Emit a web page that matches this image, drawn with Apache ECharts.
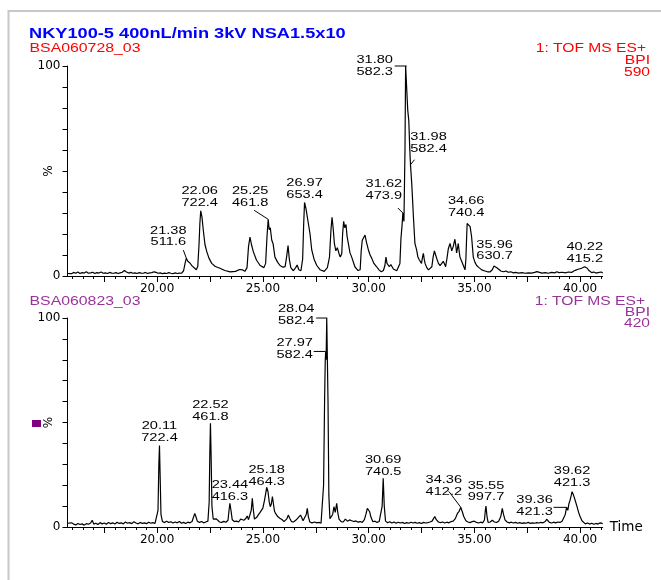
<!DOCTYPE html>
<html><head><meta charset="utf-8">
<script src="https://cdn.jsdelivr.net/npm/echarts@6/dist/echarts.min.js"></script>
<style>html,body{margin:0;padding:0;background:#fff}#c{width:661px;height:580px}</style>
</head><body><div id="c"></div>
<script>
// ---------- data ----------
const titleText = 'NKY100-5 400nL/min 3kV NSA1.5x10';
const topSample = 'BSA060728_03';
const bottomSample = 'BSA060823_03';
const topInfo = ['1: TOF MS ES+', 'BPI', '590'];
const bottomInfo = ['1: TOF MS ES+', 'BPI', '420'];

const X_MIN = 15.76, X_MAX = 41.07;
const tickLabels = [20, 25, 30, 35, 40];
const majorTicks = [17.5, 20, 22.5, 25, 27.5, 30, 32.5, 35, 37.5, 40];
const minorTicks = [16, 16.5, 17, 17.5, 18, 18.5, 19, 19.5, 20, 20.5, 21, 21.5, 22, 22.5, 23, 23.5, 24, 24.5, 25, 25.5,
  26, 26.5, 27, 27.5, 28, 28.5, 29, 29.5, 30, 30.5, 31, 31.5, 32, 32.5, 33, 33.5, 34, 34.5, 35, 35.5,
  36, 36.5, 37, 37.5, 38, 38.5, 39, 39.5, 40, 40.5, 41];
const yLabels = [0, 100];

// top chromatogram [time, % intensity]
const topTrace = [
  [15.76,1.2],[15.85,1.6],[15.95,1.1],[16.05,1.7],[16.15,1.3],[16.25,1.9],[16.35,1.2],[16.45,1.6],[16.55,1.4],[16.65,2.0],
  [16.75,1.3],[16.85,1.5],[16.95,1.8],[17.05,1.2],[17.15,1.6],[17.25,1.4],[17.35,1.9],[17.45,1.3],[17.55,1.5],[17.65,1.2],
  [17.75,1.7],[17.85,1.4],[17.95,1.3],[18.05,1.6],[18.15,1.2],[18.25,1.5],[18.35,1.8],[18.45,2.6],[18.55,1.9],[18.65,1.4],
  [18.75,1.7],[18.85,1.3],[18.95,1.5],[19.05,1.2],[19.15,1.6],[19.25,1.4],[19.35,1.3],[19.45,1.7],[19.55,1.2],[19.65,1.5],
  [19.75,1.6],[19.85,2.0],[19.95,1.7],[20.05,1.3],[20.15,1.5],[20.25,1.1],[20.35,1.4],[20.45,1.2],[20.55,1.6],[20.65,1.3],
  [20.75,1.1],[20.85,1.5],[20.95,1.2],[21.05,1.4],[21.15,1.3],[21.25,2.5],[21.32,6.0],[21.38,8.5],[21.45,7.0],[21.55,6.2],
  [21.65,4.8],[21.75,3.9],[21.85,3.0],[21.92,4.5],[21.98,15],[22.02,25],[22.06,31],[22.12,28],[22.18,22],[22.26,15],
  [22.35,11.5],[22.45,8.5],[22.58,6],[22.75,4.5],[22.97,3.7],[23.2,2.6],[23.45,2.0],[23.7,2.2],[23.9,3.1],[24.05,2.9],
  [24.15,2.2],[24.25,4],[24.32,14],[24.39,18.5],[24.46,15],[24.55,11.5],[24.7,7.5],[24.87,5],[25.05,4],[25.13,6],
  [25.19,18],[25.25,27],[25.30,22],[25.35,23],[25.42,17],[25.48,15.5],[25.57,9],[25.7,6.5],[25.81,5],[25.95,4.2],
  [26.05,4.5],[26.12,9],[26.19,14.5],[26.25,8],[26.32,4],[26.44,2.5],[26.55,4],[26.62,5.2],[26.7,3],[26.8,2.5],
  [26.88,8],[26.93,25],[26.97,35],[27.04,32],[27.15,25],[27.23,20],[27.31,12.4],[27.42,8],[27.55,5],[27.7,3],
  [27.9,2.2],[28.05,4],[28.15,9],[28.22,22],[28.27,28],[28.33,22],[28.38,15.5],[28.45,12],[28.52,13.5],[28.58,14],
  [28.62,10],[28.66,9],[28.73,10.6],[28.77,20],[28.82,26],[28.87,23],[28.93,24.5],[28.98,19],[29.04,15.5],[29.12,11],
  [29.2,9],[29.35,4.4],[29.5,2.6],[29.6,3.0],[29.65,12],[29.7,17],[29.76,16.5],[29.83,19.5],[29.9,16],[29.99,12.4],
  [30.07,10],[30.15,8.4],[30.25,6],[30.38,4.4],[30.5,2.8],[30.6,2.0],[30.7,2.6],[30.77,5],[30.82,9],[30.87,6],
  [30.98,4.4],[31.05,5.5],[31.09,5],[31.17,3.3],[31.25,3.7],[31.33,2.5],[31.41,2.9],[31.48,6],[31.53,18],[31.58,24],
  [31.62,30],[31.67,26],[31.72,60],[31.75,100],[31.82,100],[31.85,79],[31.9,74],[31.94,62],[31.98,53],[32.04,44],
  [32.08,36],[32.12,28],[32.19,15.5],[32.27,12.4],[32.33,9],[32.4,7.6],[32.5,6],[32.55,9],[32.59,10.8],[32.63,8],
  [32.67,6],[32.75,4],[32.83,2.9],[32.92,3.5],[32.99,4.4],[33.05,9],[33.11,12],[33.17,10],[33.22,8.4],[33.3,6],
  [33.38,5],[33.46,6],[33.53,7],[33.6,5.5],[33.64,4.4],[33.7,8],[33.77,13],[33.85,15.5],[33.93,12],[34.0,14],
  [34.08,17.5],[34.13,14],[34.16,11],[34.2,13],[34.24,15.5],[34.28,12],[34.32,9],[34.4,7],[34.48,5],[34.56,2.9],
  [34.6,8],[34.64,20],[34.66,25],[34.72,25],[34.8,23.5],[34.87,18.7],[34.95,9],[35.03,6.5],[35.11,5],[35.22,4],
  [35.35,2.9],[35.5,2.4],[35.62,2.0],[35.75,2.0],[35.85,3.0],[35.93,4.8],[35.96,5.2],[36.02,4.8],[36.08,3.8],[36.14,2.9],
  [36.25,2.4],[36.38,2.0],[36.5,2.4],[36.6,1.8],[36.72,2.0],[36.85,1.5],[36.95,1.7],[37.1,1.4],[37.25,1.6],[37.4,1.3],
  [37.55,1.5],[37.7,1.4],[37.85,1.7],[37.96,2.1],[38.05,1.7],[38.2,1.4],[38.35,1.6],[38.5,1.3],[38.65,1.7],[38.8,1.5],
  [38.9,2.0],[39.0,1.6],[39.15,1.8],[39.3,1.5],[39.45,1.9],[39.6,1.7],[39.7,2.4],[39.8,2.8],[39.91,3.2],[39.98,2.6],
  [40.07,3.7],[40.15,3.2],[40.22,4.4],[40.28,3.6],[40.34,3.7],[40.42,2.6],[40.5,1.9],[40.55,1.6],[40.65,1.9],[40.75,1.4],
  [40.85,1.6],[40.94,1.3],[41.0,1.9],[41.07,1.4]
];

// bottom chromatogram [time, % intensity]
const bottomTrace = [
  [15.76,1.8],[15.85,1.2],[15.95,2.0],[16.05,1.4],[16.15,1.0],[16.25,1.7],[16.35,1.2],[16.45,1.5],[16.55,0.9],[16.65,1.6],
  [16.75,1.3],[16.85,1.9],[16.93,3.2],[17.0,1.4],[17.1,1.8],[17.2,1.2],[17.3,2.1],[17.4,1.5],[17.5,1.9],[17.6,1.3],
  [17.7,2.2],[17.8,1.6],[17.9,2.0],[18.0,1.4],[18.1,2.3],[18.2,1.7],[18.3,2.0],[18.4,1.5],[18.5,2.4],[18.6,1.8],
  [18.7,2.1],[18.8,1.6],[18.9,2.5],[19.0,1.9],[19.1,1.5],[19.2,2.2],[19.3,1.7],[19.4,2.0],[19.5,1.6],[19.6,2.3],
  [19.7,1.8],[19.8,2.1],[19.9,1.7],[19.98,2.0],[20.04,8],[20.08,30],[20.11,39],[20.14,25],[20.18,6],[20.25,2.6],
  [20.35,2.1],[20.45,2.8],[20.55,2.2],[20.65,2.5],[20.75,1.9],[20.85,2.4],[20.95,2.0],[21.05,2.6],[21.15,1.8],[21.25,2.2],
  [21.35,1.7],[21.45,2.3],[21.55,2.0],[21.65,2.6],[21.72,3.5],[21.78,6.5],[21.83,5.0],[21.9,2.8],[22.0,2.2],[22.1,2.6],
  [22.2,2.0],[22.3,2.4],[22.4,2.8],[22.46,12],[22.49,35],[22.52,49.6],[22.55,35],[22.59,10],[22.65,3.8],[22.72,3.0],
  [22.8,3.9],[22.86,3.5],[22.95,2.4],[23.05,2.2],[23.15,2.7],[23.25,2.3],[23.35,3.2],[23.4,8],[23.44,11.3],[23.49,8],
  [23.55,3.5],[23.65,2.6],[23.75,2.8],[23.85,2.4],[23.95,3.8],[24.02,4.0],[24.1,3.2],[24.2,4.2],[24.26,5.3],[24.32,3.5],
  [24.4,3.5],[24.45,8],[24.5,13.7],[24.55,8],[24.6,3.8],[24.7,4.5],[24.8,6],[24.9,7.5],[25.0,9],[25.08,13],
  [25.15,17],[25.18,19],[25.24,17],[25.3,12],[25.35,9.7],[25.4,11],[25.45,14.5],[25.5,11],[25.55,7.5],[25.6,6.5],
  [25.7,5],[25.8,4.2],[25.9,3.6],[26.0,2.6],[26.08,2.2],[26.14,4],[26.2,5.7],[26.27,4.2],[26.35,2.6],[26.45,2.4],
  [26.55,3.2],[26.65,4.2],[26.72,5.0],[26.78,5.7],[26.84,4.4],[26.9,3.0],[26.98,3.5],[27.05,6],[27.1,8.9],[27.15,5],
  [27.22,2.4],[27.32,2.0],[27.45,2.4],[27.55,2.0],[27.65,2.2],[27.75,1.8],[27.82,2.5],[27.87,20],[27.92,62],[27.95,80],
  [27.97,84],[27.99,80],[28.02,100],[28.05,100],[28.08,60],[28.12,15],[28.17,4],[28.23,3.2],[28.3,6],[28.36,9.7],
  [28.42,7],[28.49,11.3],[28.54,7],[28.6,3.8],[28.7,2.6],[28.8,2.4],[28.9,3.8],[29.0,2.8],[29.1,3.4],[29.2,3.0],
  [29.3,2.6],[29.4,2.9],[29.5,2.3],[29.6,2.6],[29.7,2.2],[29.8,3.5],[29.87,6],[29.94,8.9],[30.0,8],[30.05,7.3],
  [30.1,5],[30.2,2.5],[30.3,2.8],[30.4,2.2],[30.5,2.6],[30.58,2.4],[30.64,10],[30.69,23.3],[30.74,10],[30.8,2.8],
  [30.9,2.0],[31.0,2.5],[31.1,1.9],[31.2,2.4],[31.3,1.8],[31.4,2.3],[31.5,1.9],[31.6,2.2],[31.7,1.7],[31.8,2.1],
  [31.9,1.8],[32.0,2.3],[32.1,1.9],[32.2,2.2],[32.3,1.8],[32.4,2.1],[32.5,1.7],[32.6,2.2],[32.7,1.9],[32.8,2.1],
  [32.9,2.4],[33.0,2.8],[33.07,4],[33.13,5],[33.2,3.5],[33.3,2.4],[33.4,2.1],[33.5,2.4],[33.6,1.9],[33.7,2.3],
  [33.8,2.0],[33.9,2.6],[34.0,2.8],[34.1,4.0],[34.2,6.5],[34.28,7.5],[34.36,9.4],[34.43,7.3],[34.5,5.0],[34.6,3.0],
  [34.7,2.4],[34.8,2.1],[34.9,2.6],[35.0,2.8],[35.1,2.2],[35.2,1.9],[35.3,2.3],[35.4,2.0],[35.48,3.5],[35.52,8],
  [35.55,10],[35.6,5],[35.65,2.2],[35.75,2.4],[35.85,3.2],[35.95,2.4],[36.05,2.2],[36.15,2.8],[36.25,5],[36.32,8.9],
  [36.38,6],[36.45,3.4],[36.55,2.4],[36.65,2.0],[36.75,2.3],[36.85,1.9],[36.95,2.2],[37.05,1.8],[37.15,2.1],[37.25,1.7],
  [37.35,2.0],[37.45,1.8],[37.55,2.2],[37.65,1.7],[37.75,2.0],[37.85,1.8],[37.95,2.1],[38.05,1.9],[38.15,2.2],[38.25,2.0],
  [38.35,2.6],[38.42,3.7],[38.48,3.0],[38.55,2.2],[38.65,1.9],[38.75,2.3],[38.85,2.0],[38.95,2.4],[39.05,2.2],[39.15,2.8],
  [39.22,3.5],[39.3,6],[39.36,9.4],[39.42,8],[39.47,11],[39.53,13],[39.58,15],[39.62,16.9],[39.68,15.5],[39.73,14],
  [39.78,13.5],[39.85,10],[39.93,7],[40.0,5],[40.09,3],[40.17,2.2],[40.25,1.5],[40.35,1.9],[40.45,1.4],[40.55,1.8],
  [40.65,1.3],[40.75,1.7],[40.85,1.4],[40.95,2.0],[41.0,2.2],[41.07,1.6]
];

// peak annotations
const topPeakTimes = [21.38, 22.06, 25.25, 26.97, 31.62, 31.80, 31.98, 34.66, 35.96, 40.22];
const topPeakValues = [8.5, 31, 27, 35, 30, 100, 53, 25, 5.2, 4.4];
const topPeakMz = ['511.6', '722.4', '461.8', '653.4', '473.9', '582.3', '582.4', '740.4', '630.7', '415.2'];
const bottomPeakTimes = [20.11, 22.52, 23.44, 25.18, 27.97, 28.04, 30.69, 34.36, 35.55, 39.36, 39.62];
const bottomPeakValues = [39, 49.6, 11.3, 19, 84, 100, 23.3, 9.4, 10, 9.4, 16.9];
const bottomPeakMz = ['722.4', '461.8', '416.3', '464.3', '582.4', '582.4', '740.5', '412.2', '997.7', '421.3', '421.3'];

// ---------- styles / layout ----------
const topLabelOffsets = [[-18,-10],[-1,-2],[-18,-11],[0,-2],[-19,-11],[-32,12],[18,-10],[-1,-5],[0,-3],[0,-2]];
const topLeaders = [[-3,-8], null, [-14,-9], null, [-5,-5], [-12,0], [4,-5], null, null, null];
const bottomLabelOffsets = [[0,-2],[0,-1],[0,-1],[0,0],[-31,9],[-31,9],[0,-1],[-17,-10],[0,-3],[-32,10],[0,-3]];
const bottomLeaders = [null, null, null, null, [-12,0], [-11,0], null, [-12,-16], null, [-13,0], null];

const SX = 1.3;
const ARIAL = '"Liberation Sans", Arial, sans-serif';
const DEJAVU = '"DejaVu Sans", sans-serif';
const RED = '#ff0000', PURPLE = '#993399', BLUE = '#0000ff';

function xAxesFor(gridIndex, withName) {
  return [{
    type: 'value', gridIndex, min: X_MIN, max: X_MAX, position: 'bottom',
    axisLine: {show: true, onZero: false, lineStyle: {color: '#000', width: 1}},
    axisTick: {show: true, customValues: majorTicks, length: 6, lineStyle: {color: '#000', width: 1}},
    axisLabel: {customValues: tickLabels, formatter: v => Number(v).toFixed(2), color: '#000',
      fontFamily: DEJAVU, fontSize: 12, margin: 7},
    splitLine: {show: false},
    name: withName ? 'Time' : '', nameLocation: 'end', nameGap: 7,
    nameTextStyle: {color: '#000', fontFamily: DEJAVU, fontSize: 13.5, verticalAlign: 'middle'}
  }, {
    type: 'value', gridIndex, min: X_MIN, max: X_MAX, position: 'bottom',
    axisLine: {show: false, onZero: false}, axisLabel: {show: false}, splitLine: {show: false},
    axisTick: {show: true, customValues: minorTicks, length: 3, lineStyle: {color: '#000', width: 1}}
  }];
}
function yAxisFor(gridIndex) {
  return {
    type: 'value', gridIndex, min: 0, max: 100, interval: 10,
    axisLine: {show: true, onZero: false, lineStyle: {color: '#000', width: 1}},
    axisTick: {show: true, length: 5, lineStyle: {color: '#000', width: 1}},
    axisLabel: {customValues: yLabels, color: '#000', fontFamily: DEJAVU, fontSize: 12, margin: 7},
    splitLine: {show: false},
    name: '%', nameLocation: 'middle', nameRotate: 90, nameGap: 13, nameMoveOverlap: false,
    nameTextStyle: {color: '#000', fontFamily: DEJAVU, fontSize: 12}
  };
}
function traceSeries(xIdx, yIdx, data) {
  return {type: 'line', xAxisIndex: xIdx, yAxisIndex: yIdx, data, showSymbol: false, symbol: 'none',
    lineStyle: {color: '#000', width: 1.2}, silent: true, animation: false, z: 3};
}
function annotSeries(xIdx, yIdx, times, values, mz, offsets, leaders) {
  return {
    type: 'custom', xAxisIndex: xIdx, yAxisIndex: yIdx, clip: false, silent: true, z: 5,
    data: times.map((t, i) => [t, values[i]]),
    renderItem(params, api) {
      const i = params.dataIndex;
      const p = api.coord([api.value(0), api.value(1)]);
      const o = offsets[i], l = leaders[i];
      const children = [{
        type: 'text', x: p[0] + o[0], y: p[1] + o[1], scaleX: 1.27, scaleY: 1,
        style: {text: times[i].toFixed(2) + '\n' + mz[i], x: 0, y: 0, align: 'center', verticalAlign: 'bottom',
          fill: '#000', font: '11.5px ' + ARIAL, lineHeight: 11.8}
      }];
      if (l) children.push({type: 'line', shape: {x1: p[0] + l[0], y1: p[1] + l[1], x2: p[0], y2: p[1]},
        style: {stroke: '#000', lineWidth: 1}});
      return {type: 'group', children};
    }
  };
}
function txt(x, y, text, color, opts) {
  opts = opts || {};
  return {type: 'text', x, y, scaleX: opts.sx || SX, scaleY: 1, silent: true, z: 10,
    style: {text, fill: color, font: (opts.bold ? 'bold ' : '') + (opts.size || 12) + 'px ' + ARIAL,
      align: opts.align || 'left', verticalAlign: 'middle'}};
}

const chart = echarts.init(document.getElementById('c'), null, {renderer: 'canvas'});
chart.setOption({
  animation: false,
  backgroundColor: '#fff',
  grid: [
    {left: 67.5, top: 66, width: 535.2, height: 210},
    {left: 67.5, top: 318, width: 535.2, height: 209}
  ],
  xAxis: [...xAxesFor(0, false), ...xAxesFor(1, true)],
  yAxis: [yAxisFor(0), yAxisFor(1)],
  series: [
    traceSeries(0, 0, topTrace),
    traceSeries(2, 1, bottomTrace),
    annotSeries(0, 0, topPeakTimes, topPeakValues, topPeakMz, topLabelOffsets, topLeaders),
    annotSeries(2, 1, bottomPeakTimes, bottomPeakValues, bottomPeakMz, bottomLabelOffsets, bottomLeaders)
  ],
  graphic: [
    {type: 'rect', silent: true, shape: {x: 8.5, y: 11, width: 800, height: 800},
      style: {fill: 'none', stroke: '#c8c8c8', lineWidth: 2}},
    txt(29, 34, titleText, BLUE, {bold: true, size: 14}),
    txt(29.5, 49, topSample, RED, {sx: 1.32}),
    txt(646, 48.5, topInfo[0], RED, {align: 'right'}),
    txt(650, 61, topInfo[1], RED, {align: 'right'}),
    txt(650, 72.5, topInfo[2], RED, {align: 'right'}),
    txt(29.5, 301.5, bottomSample, PURPLE, {sx: 1.32}),
    txt(645, 301.5, bottomInfo[0], PURPLE, {align: 'right'}),
    txt(650, 313, bottomInfo[1], PURPLE, {align: 'right'}),
    txt(650, 324, bottomInfo[2], PURPLE, {align: 'right'}),
    {type: 'rect', silent: true, shape: {x: 32, y: 420, width: 9, height: 7}, style: {fill: '#800080'}}
  ]
});
</script></body></html>
